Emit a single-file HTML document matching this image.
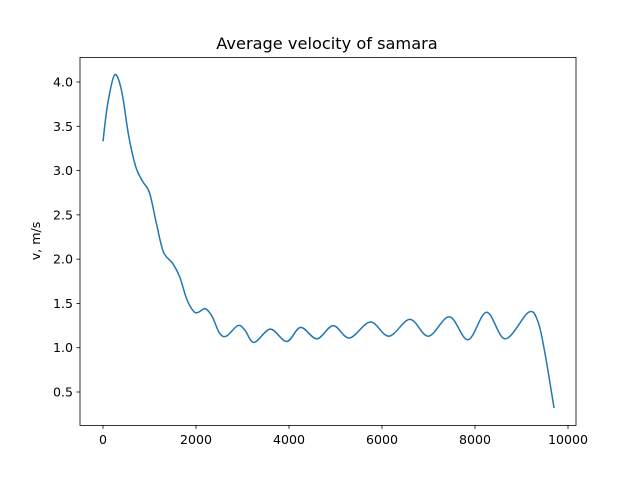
<!DOCTYPE html>
<html><head><meta charset="utf-8"><style>
body{margin:0;background:#fff;}
svg text{font-family:"DejaVu Sans","Liberation Sans",sans-serif;fill:#000;}
</style></head><body>
<svg id="chart" width="640" height="478">
<rect x="0" y="0" width="640" height="478" fill="#fff"/>
<text x="327" y="49" font-size="16.2" text-anchor="middle">Average velocity of samara</text>
<text transform="translate(40,241) rotate(-90)" font-size="12.6" text-anchor="middle">v, m/s</text>
<g id="xt"></g><g id="yt"></g>
<path id="line" fill="none" stroke="#1f77b4" stroke-width="1.5"/>
<rect x="80" y="57.4" width="496" height="368" fill="none" stroke="#000" stroke-width="0.8"/>
</svg>
<script>
const xs=[0,100,250,400,550,700,850,1000,1150,1300,1500,1650,1800,1950,2050,2200,2350,2500,2650,2900,3050,3250,3600,3950,4250,4600,4950,5300,5750,6150,6600,7000,7450,7850,8250,8650,9150,9350,9500,9700];
const vs=[3.33,3.75,4.08,3.9,3.4,3.05,2.88,2.75,2.4,2.08,1.95,1.8,1.55,1.41,1.4,1.44,1.35,1.17,1.13,1.25,1.2,1.06,1.21,1.07,1.23,1.1,1.25,1.11,1.29,1.13,1.32,1.13,1.35,1.09,1.40,1.10,1.40,1.3,0.95,0.32];
const xTicks=[0,2000,4000,6000,8000,10000];
const yTicks=[0.5,1.0,1.5,2.0,2.5,3.0,3.5,4.0];
const X=v=>103+v*0.0465;
const Y=v=>82+(4.0-v)*88.571;
const NS="http://www.w3.org/2000/svg";
const xt=document.getElementById('xt'),yt=document.getElementById('yt');
xTicks.forEach(t=>{
  const l=document.createElementNS(NS,'line');
  l.setAttribute('x1',X(t));l.setAttribute('x2',X(t));l.setAttribute('y1',425.4);l.setAttribute('y2',428.9);l.setAttribute('stroke','#000');l.setAttribute('stroke-width','0.8');
  
  
  xt.appendChild(l);
  const s=document.createElementNS(NS,'text');
  s.setAttribute('x',X(t));s.setAttribute('y',444);s.setAttribute('font-size','12.6');s.setAttribute('text-anchor','middle');s.textContent=t;
  
  
  xt.appendChild(s);
});
yTicks.forEach(t=>{
  const l=document.createElementNS(NS,'line');
  l.setAttribute('x1',76.5);l.setAttribute('x2',80);l.setAttribute('y1',Y(t));l.setAttribute('y2',Y(t));l.setAttribute('stroke','#000');l.setAttribute('stroke-width','0.8');
  
  
  yt.appendChild(l);
  const s=document.createElementNS(NS,'text');
  s.setAttribute('x',73);s.setAttribute('y',Y(t)+4.5);s.setAttribute('font-size','12.6');s.setAttribute('text-anchor','end');s.textContent=t.toFixed(1);
  
  
  yt.appendChild(s);
});
const P=xs.map((x,i)=>[X(x),Y(vs[i])]);
let d='M'+P[0][0]+','+P[0][1];
for(let i=0;i<P.length-1;i++){
  const p0=P[Math.max(i-1,0)],p1=P[i],p2=P[i+1],p3=P[Math.min(i+2,P.length-1)];
  const c1=[p1[0]+(p2[0]-p0[0])/6,p1[1]+(p2[1]-p0[1])/6];
  const c2=[p2[0]-(p3[0]-p1[0])/6,p2[1]-(p3[1]-p1[1])/6];
  d+=` C${c1[0]},${c1[1]} ${c2[0]},${c2[1]} ${p2[0]},${p2[1]}`;
}
document.getElementById('line').setAttribute('d',d);
</script>
</body></html>
